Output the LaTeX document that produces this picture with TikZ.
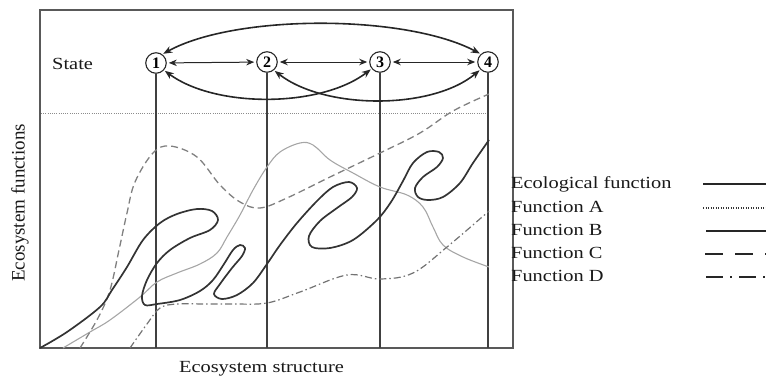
\documentclass[tikz,border=0pt]{standalone}
\usepackage{fontspec}
\setmainfont{Liberation Serif}
\usetikzlibrary{arrows.meta}
\newcommand{\wtxt}[1]{\scalebox{1.2}[1]{#1}}
\begin{document}
\begin{tikzpicture}[x=1pt,y=-1pt,
  lbl/.style={font=\fontsize{17}{20}\selectfont, inner sep=0pt, text=black!90},
  statenode/.style={circle, draw=black!85, line width=1.1pt, minimum size=20.5pt, inner sep=0pt, font=\fontsize{16}{16}\selectfont\bfseries},
  frameline/.style={draw=black!65, line width=1.3pt},
  stateline/.style={draw=black!75, line width=1.2pt},
  biarrow/.style={{Stealth[length=8pt,width=6.5pt]}-{Stealth[length=8pt,width=6.5pt]}, line width=1pt, black!85, shorten <=2pt, shorten >=2pt},
  bigarrow/.style={{Stealth[length=9pt,width=7pt]}-{Stealth[length=9pt,width=7pt]}, line width=1.6pt, black!85, shorten <=1pt, shorten >=1pt},
  ecofn/.style={draw=black!80, line width=1.7pt},
  fnA/.style={draw=black!45, line width=1pt, dash pattern=on 1pt off 1.2pt},
  fnB/.style={draw=black!35, line width=1.1pt},
  fnC/.style={draw=black!50, line width=1.3pt, dash pattern=on 7pt off 4pt},
  fnD/.style={draw=black!55, line width=1.2pt, dash pattern=on 7pt off 3pt on 1.5pt off 3pt},
  legC/.style={draw=black!85, line width=1.4pt, dash pattern=on 18pt off 12pt},
  legD/.style={draw=black!85, line width=1.4pt, dash pattern=on 17pt off 7pt on 2pt off 7pt},
  legA/.style={draw=black!80, line width=1.2pt, dash pattern=on 1.2pt off 1.3pt}
]
\useasboundingbox (0,0) rectangle (766,380);

% frame
\draw[frameline] (40,10) rectangle (513,348);

% dotted function A level
\coordinate (dA1) at (41,113);
\coordinate (dA2) at (489,113);
\draw[fnA] (dA1) -- (dA2);

% states
\node[lbl, anchor=west] (statelbl) at (52,64) {\wtxt{State}};
\node[statenode] (c1) at (156,63) {1};
\node[statenode] (c2) at (267,62) {2};
\node[statenode] (c3) at (380,62) {3};
\node[statenode] (c4) at (488,62) {4};

% vertical lines
\coordinate (b1) at (156,348);
\coordinate (b2) at (267,348);
\coordinate (b3) at (380,348);
\coordinate (b4) at (488,348);
\draw[stateline] (c1.south) -- (b1);
\draw[stateline] (c2.south) -- (b2);
\draw[stateline] (c3.south) -- (b3);
\draw[stateline] (c4.south) -- (b4);

% arrows between states
\draw[biarrow] (c1) -- (c2);
\draw[biarrow] (c2) -- (c3);
\draw[biarrow] (c3) -- (c4);
\draw[bigarrow] (c1.54) .. controls (235,14) and (405,14) .. (c4.132);
\draw[bigarrow] (c1.-42) .. controls (215,108) and (320,108) .. (c3.-141);
\draw[bigarrow] (c2.-50) .. controls (325,110) and (432,110) .. (c4.-135);

% Function B (light gray)
\draw[fnB] plot[smooth, tension=0.6] coordinates {
(63,348) (90,332) (110,320) (140,297) (157,282) (177,273) (200,264) (217,253)
(227,237) (240,215) (253,190) (267,167) (280,152) (300,143) (313,145) (330,160)
(353,173) (380,187) (407,195) (423,207) (433,227) (443,245) (463,257) (489,267)};

% Function C (dashed)
\draw[fnC] plot[smooth, tension=0.6] coordinates {
(80,348) (98,318) (110,290) (119,250) (127,213) (135,182) (153,153) (170,146)
(197,157) (220,185) (240,202) (260,208) (287,198) (330,177) (380,153) (420,133)
(453,111) (489,94)};

% Function D (dash-dot)
\draw[fnD] plot[smooth, tension=0.6] coordinates {
(130,348) (147,324) (160,308) (177,304) (205,304) (233,304) (267,303) (300,292)
(347,275) (380,279) (413,273) (447,247) (489,211)};

% Ecological function (thick)
\draw[ecofn] plot[smooth, tension=0.55] coordinates {
(40,348) (67,332) (100,307) (112,290) (127,267) (143,240) (160,223) (177,214)
(197,209) (212,211) (218,220) (210,230) (190,238) (170,250) (157,263) (147,280)
(142,296) (145,305) (157,304) (180,300) (200,291) (213,280) (224,264) (233,250)
(240,245) (245,248) (242,256) (232,268) (220,284) (214,294) (222,299) (237,295)
(253,283) (267,264) (280,245) (297,223) (317,201) (333,187) (349,182) (357,188)
(352,197) (337,208) (320,221) (309,236) (312,247) (330,248) (353,240) (377,220)
(391,202) (403,181) (413,163) (427,152) (439,152) (443,158) (437,167) (423,177)
(415,188) (418,197) (428,200) (443,197) (460,183) (473,163) (489,140)};

% axis labels
\node[lbl] (xlabel) at (261.5,369) {\wtxt{Ecosystem structure}};
\node[lbl, rotate=90, font=\fontsize{19}{20}\selectfont] (ylabel) at (20,203) {Ecosystem functions};

% legend
\node[lbl, anchor=base west] (l0) at (511,188) {\wtxt{Ecological function}};
\node[lbl, anchor=base west] (l1) at (511,212) {\wtxt{Function A}};
\node[lbl, anchor=base west] (l2) at (511,235) {\wtxt{Function B}};
\node[lbl, anchor=base west] (l3) at (511,258) {\wtxt{Function C}};
\node[lbl, anchor=base west] (l4) at (511,281) {\wtxt{Function D}};
\coordinate (e0a) at (703,184); \coordinate (e0b) at (766,184);
\coordinate (e1a) at (703,208); \coordinate (e1b) at (766,208);
\coordinate (e2a) at (706,231); \coordinate (e2b) at (766,231);
\coordinate (e3a) at (705,254); \coordinate (e3b) at (766,254);
\coordinate (e4a) at (706,277); \coordinate (e4b) at (766,277);
\draw[black!85, line width=2.8pt] (e0a) -- (e0b);
\draw[legA] (e1a) -- (e1b);
\draw[black!85, line width=1.4pt] (e2a) -- (e2b);
\draw[legC] (e3a) -- (e3b);
\draw[legD] (e4a) -- (e4b);
\end{tikzpicture}
\end{document}
